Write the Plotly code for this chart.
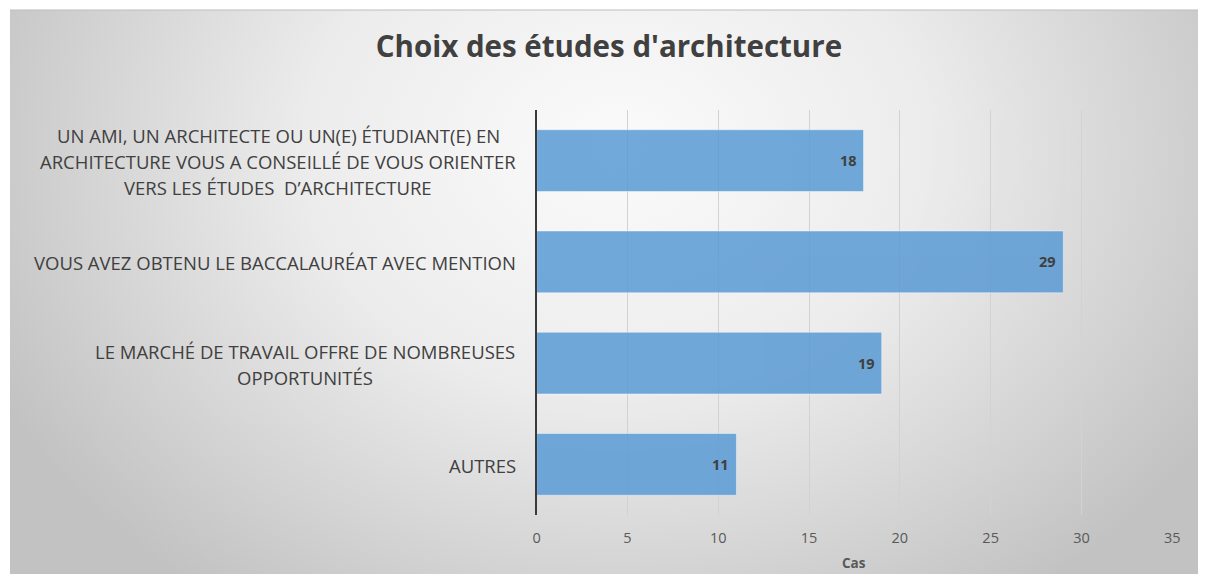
import plotly.graph_objects as go

# ---------------- data ----------------
categories = [
    "UN AMI, UN ARCHITECTE OU UN(E) ÉTUDIANT(E) EN ARCHITECTURE VOUS A CONSEILLÉ DE VOUS ORIENTER VERS LES ÉTUDES  D’ARCHITECTURE",
    "VOUS AVEZ OBTENU LE BACCALAURÉAT AVEC MENTION",
    "LE MARCHÉ DE TRAVAIL OFFRE DE NOMBREUSES OPPORTUNITÉS",
    "AUTRES",
]
label_lines = [
    ["UN AMI, UN ARCHITECTE OU UN(E) ÉTUDIANT(E) EN",
     "ARCHITECTURE VOUS A CONSEILLÉ DE VOUS ORIENTER",
     "VERS LES ÉTUDES  D’ARCHITECTURE"],
    ["VOUS AVEZ OBTENU LE BACCALAURÉAT AVEC MENTION"],
    ["LE MARCHÉ DE TRAVAIL OFFRE DE NOMBREUSES",
     "OPPORTUNITÉS"],
    ["AUTRES"],
]
values = [18, 29, 19, 11]
x_ticks = [0, 5, 10, 15, 20, 25, 30, 35]
title_text = "Choix des études d'architecture"
x_title = "Cas"

# ---------------- layout constants (pixels) ----------------
W, H = 1206, 574
PANEL_L, PANEL_T = 6, 10
PLOT_L, PLOT_R, PLOT_T, PLOT_B = 538, 1180, 110, 515
LABEL_RIGHT = 518
block_widths = [482, 489, 428, 69]   # widest line of each label block
LINE_STEP = 26
FONT = "Open Sans"
TXT = "#404040"

def px(x):
    return x / W

def py(y):
    return 1 - y / H

fig = go.Figure()

# background radial gradient (panel)
fig.add_trace(go.Scatter(
    x=[-80, 1320, 1320, -80, -80], y=[-400, -400, 700, 700, -400],
    mode="lines", fill="toself", line=dict(width=0),
    fillgradient=dict(type="radial",
                      colorscale=[[0, "#fbfbfb"], [0.45, "#ececec"], [1, "#c2c2c2"]]),
    hoverinfo="skip", showlegend=False, xaxis="x", yaxis="y",
))

# bars
fig.add_trace(go.Bar(
    x=values, y=categories, orientation="h", width=0.61,
    marker=dict(color="#5b9bd5", line=dict(width=1, color="rgba(255,255,255,0.45)")),
    opacity=0.86, xaxis="x2", yaxis="y2", showlegend=False, hoverinfo="x+y",
))

annotations = []
# category labels: centred lines, block right edge at LABEL_RIGHT
for cat, lines, bw in zip(categories, label_lines, block_widths):
    n = len(lines)
    cx = LABEL_RIGHT - bw / 2
    for i, line in enumerate(lines):
        annotations.append(dict(
            text=line, xref="paper", x=px(cx), xanchor="center",
            yref="y2", y=cat, yanchor="middle",
            yshift=-(i - (n - 1) / 2) * LINE_STEP - 1,
            showarrow=False, font=dict(family=FONT, size=18.5, color=TXT),
        ))
# data labels (inside end)
for cat, v in zip(categories, values):
    annotations.append(dict(
        text=f"<b>{v}</b>", xref="x2", x=v, xanchor="right", xshift=-5,
        yref="y2", y=cat, yanchor="middle", showarrow=False,
        font=dict(family=FONT, size=14.5, color=TXT),
    ))
# x axis title
annotations.append(dict(
    text=f"<b>{x_title}</b>", xref="paper", x=px((PLOT_L + PLOT_R) / 2), xanchor="center",
    yref="paper", y=py(563), yanchor="middle", showarrow=False,
    font=dict(family=FONT, size=13.5, color="#595959"),
))

# initial width leaves room for the default 8px body margin; widened to W once the margin is removed
INIT_W = W - 8

fig.update_layout(
    width=INIT_W, height=H,
    margin=dict(l=0, r=0, t=0, b=0),
    paper_bgcolor="white", plot_bgcolor="rgba(0,0,0,0)",
    showlegend=False,
    title=dict(text=f"<b>{title_text}</b>", x=px(611), xanchor="center",
               y=py(47), yanchor="middle", xref="paper", yref="paper",
               font=dict(family=FONT, size=29.5, color=TXT)),
    xaxis=dict(domain=[px(PANEL_L), 1], range=[PANEL_L, W], visible=False, fixedrange=True),
    yaxis=dict(domain=[0, py(PANEL_T)], range=[H, PANEL_T], visible=False, fixedrange=True),
    xaxis2=dict(domain=[px(PLOT_L), px(PLOT_R)], anchor="y2", range=[0, 35],
                tickvals=x_ticks, ticktext=[str(t) for t in x_ticks],
                showgrid=True, gridcolor="#d2d2d2", gridwidth=1,
                zeroline=False, showline=False, ticks="",
                ticklabelstandoff=12,
                tickfont=dict(family=FONT, size=14.5, color="#595959")),
    yaxis2=dict(domain=[py(PLOT_B), py(PLOT_T)], anchor="x2", type="category",
                categoryorder="array", categoryarray=categories, autorange="reversed",
                showticklabels=False, showgrid=False, zeroline=False,
                showline=True, linecolor="#3a3a3a", linewidth=1.5, ticks=""),
    annotations=annotations,
    shapes=[dict(type="line", xref="paper", yref="paper",
                 x0=px(PANEL_L), x1=1, y0=py(PANEL_T), y1=py(PANEL_T),
                 line=dict(color="#bdbdbd", width=1))],
)

post_js = (
    "var s=document.createElement('style');"
    "s.textContent='html,body{margin:0!important;padding:0!important;overflow:hidden!important;}';"
    "document.head.appendChild(s);"
    "document.body.style.margin='0';document.body.style.overflow='hidden';"
    "var gd=document.getElementById('{plot_id}');"
    "if(gd){gd.style.width='" + str(W) + "px';"
    "Plotly.relayout(gd,{width:" + str(W) + "});}"
)

fig.write_html(
    "out.html",
    config={"displayModeBar": False},
    post_script=post_js,
)
